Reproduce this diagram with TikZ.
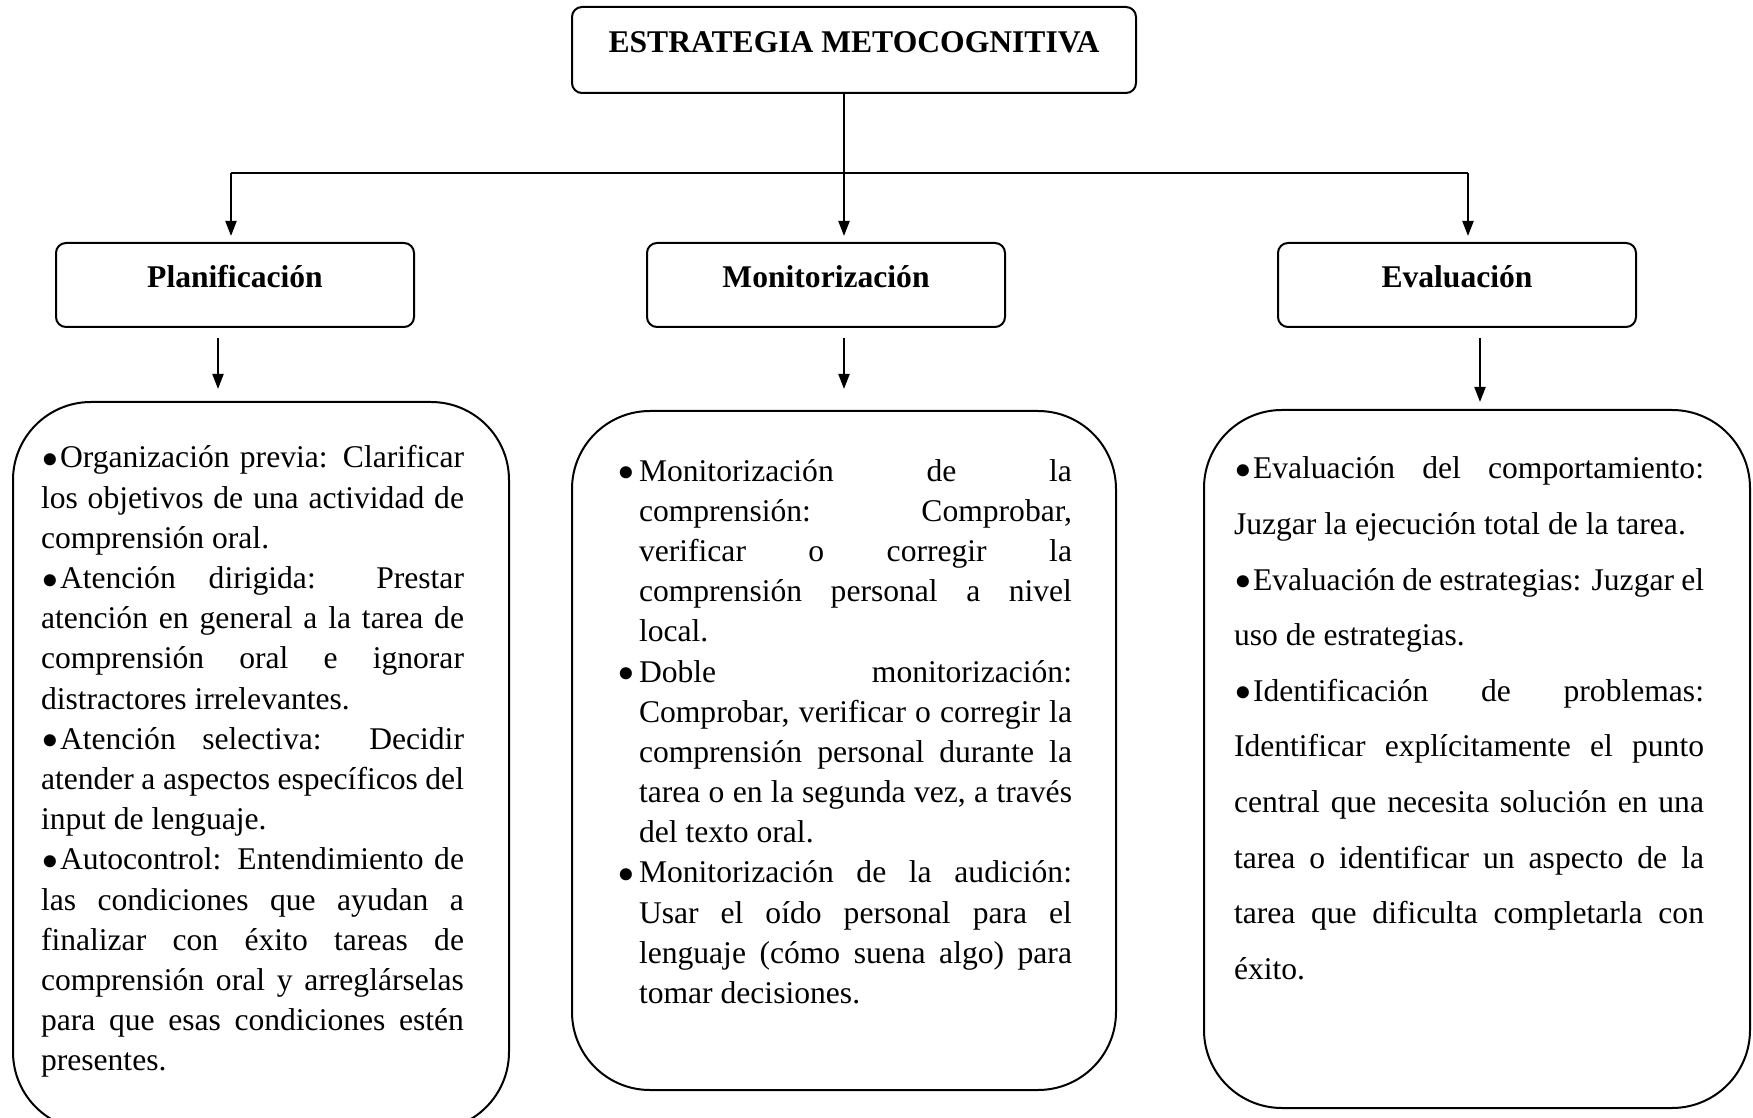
\documentclass[tikz,border=0pt]{standalone}
\usepackage{fontspec}
\setmainfont{Liberation Serif}
\usepackage{tikz}
\usetikzlibrary{positioning,arrows.meta}
\tolerance=10000
\hyphenpenalty=10000
\newcommand{\bigdot}{\raisebox{-4.3pt}{\scalebox{1.6}{\textbullet}}}
\newcommand{\bul}{\leavevmode\makebox[9.5pt][l]{\bigdot}}
\newcommand{\hbul}{\leavevmode\llap{\bigdot\hspace{2pt}}}

\begin{document}
\begin{tikzpicture}[x=0.5pt, y=-0.5pt, line width=1pt,
    headbox/.style={draw, rounded corners=5pt, font=\fontsize{15.8}{19}\selectfont\bfseries, text height=11pt, text depth=8pt},
    bodybox/.style={draw, rounded corners=39pt},
    bodytext/.style={anchor=base west, inner sep=0pt, align=justify, font=\fontsize{15.8}{20.1}\selectfont},
    arr/.style={-{Triangle[length=7.5pt,width=5.5pt]}}]

\useasboundingbox (0,0) rectangle (1753,1118);

\node[headbox, minimum width=282pt, minimum height=43pt] (estr) at (854,50) {ESTRATEGIA METOCOGNITIVA};
\node[headbox, minimum width=179pt, minimum height=42pt] (plan) at (235,285) {Planificación};
\node[headbox, minimum width=179pt, minimum height=42pt] (mon) at (826,285) {Monitorización};
\node[headbox, minimum width=179pt, minimum height=42pt] (eval) at (1457,285) {Evaluación};

\node[bodybox, minimum width=248pt, minimum height=364pt] (planbody) at (261,766) {};
\node[bodybox, minimum width=272pt, minimum height=339.5pt] (monbody) at (844,750.5) {};
\node[bodybox, minimum width=273pt, minimum height=349pt] (evalbody) at (1477,759) {};

\node[bodytext, text width=211.5pt] (plantxt) at (40,468) {\bul Organización previa: Clarificar\linebreak los objetivos de una actividad de\linebreak comprensión oral.\par
\bul Atención dirigida: Prestar\linebreak atención en general a la tarea de\linebreak comprensión oral e ignorar\linebreak distractores irrelevantes.\par
\bul Atención selectiva: Decidir\linebreak atender a aspectos específicos del\linebreak input de lenguaje.\par
\bul Autocontrol: Entendimiento de\linebreak las condiciones que ayudan a\linebreak finalizar con éxito tareas de\linebreak comprensión oral y arreglárselas\linebreak para que esas condiciones estén\linebreak presentes.};

\node[bodytext, text width=216.5pt] (montxt) at (638,481) {\hbul Monitorización de la\linebreak comprensión: Comprobar,\linebreak verificar o corregir la\linebreak comprensión personal a nivel\linebreak local.\par
\hbul Doble monitorización:\linebreak Comprobar, verificar o corregir la\linebreak comprensión personal durante la\linebreak tarea o en la segunda vez, a través\linebreak del texto oral.\par
\hbul Monitorización de la audición:\linebreak Usar el oído personal para el\linebreak lenguaje (cómo suena algo) para\linebreak tomar decisiones.};

\node[bodytext, text width=235pt, font=\fontsize{15.8}{27.8}\selectfont] (evaltxt) at (1233,479) {\bul Evaluación del comportamiento:\linebreak Juzgar la ejecución total de la tarea.\par
\bul Evaluación de estrategias: Juzgar el\linebreak uso de estrategias.\par
\bul Identificación de problemas:\linebreak Identificar explícitamente el punto\linebreak central que necesita solución en una\linebreak tarea o identificar un aspecto de la\linebreak tarea que dificulta completarla con\linebreak éxito.};

\coordinate (hub) at (844,173);
\coordinate (jL) at (231,173);
\coordinate (jR) at (1468,173);
\coordinate (aL) at (218,0);
\coordinate (aM) at (844,0);
\coordinate (aR) at (1480,0);

\draw (estr.south -| hub) -- (hub);
\draw (jL) -- (jR);
\draw[arr, shorten >=3pt] (jL) -- (plan.north -| jL);
\draw[arr, shorten >=3pt] (hub) -- (mon.north -| hub);
\draw[arr, shorten >=3pt] (jR) -- (eval.north -| jR);

\draw[arr, shorten <=5pt, shorten >=6pt] (plan.south -| aL) -- (planbody.north -| aL);
\draw[arr, shorten <=5pt, shorten >=10.5pt] (mon.south -| aM) -- (monbody.north -| aM);
\draw[arr, shorten <=5pt, shorten >=3.5pt] (eval.south -| aR) -- (evalbody.north -| aR);
\end{tikzpicture}
\end{document}
